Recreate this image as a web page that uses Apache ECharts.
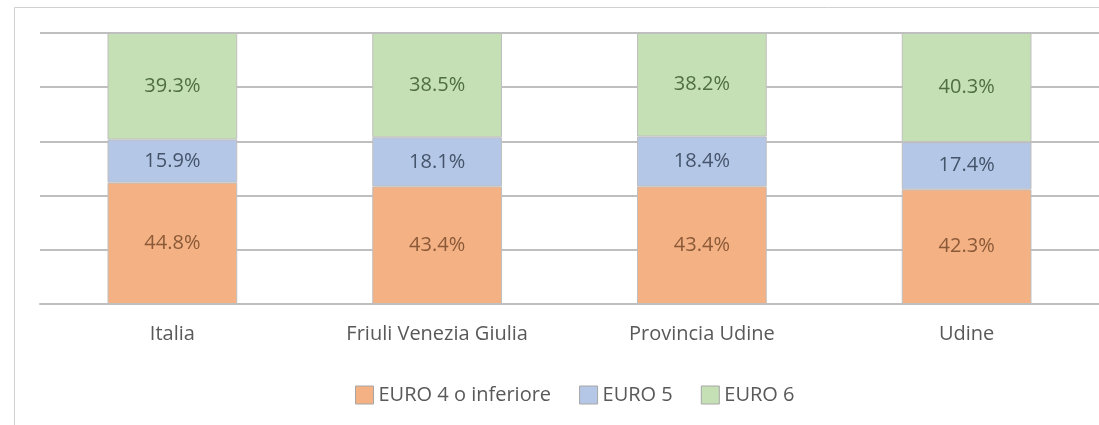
<!DOCTYPE html>
<html>
<head>
<meta charset="utf-8">
<script src="https://cdn.jsdelivr.net/npm/echarts@6/dist/echarts.min.js"></script>
<style>
  html, body { margin: 0; padding: 0; background: #ffffff; }
  #chart { width: 1099px; height: 425px; }
</style>
</head>
<body>
<div id="chart"></div>
<script>
// Share of vehicles by emission class (%)
const categories = ['Italia', 'Friuli Venezia Giulia', 'Provincia Udine', 'Udine'];
const euro4 = [44.8, 43.4, 43.4, 42.3];
const euro5 = [15.9, 18.1, 18.4, 17.4];
const euro6 = [39.3, 38.5, 38.2, 40.3];
const seriesNames = ['EURO 4 o inferiore', 'EURO 5', 'EURO 6'];

const fills = ['#f4b183', '#b4c7e7', '#c5e0b4'];
const labelColors = ['#8a5a38', '#44546a', '#4f6e42'];
const font = '"Open Sans", "Noto Sans", sans-serif';
const fontSize = 20;

const chart = echarts.init(document.getElementById('chart'), null, { renderer: 'canvas' });

function makeSeries(name, data, i) {
  return {
    name: name,
    type: 'bar',
    stack: 'total',
    data: data,
    barWidth: '49%',
    itemStyle: { color: fills[i], borderColor: '#bfbfbf', borderWidth: 1 },
    label: {
      show: true,
      position: 'inside',
      formatter: p => p.value.toFixed(1) + '%',
      color: labelColors[i],
      fontFamily: font,
      fontSize: fontSize
    },
    emphasis: { disabled: true }
  };
}

chart.setOption({
  animation: false,
  backgroundColor: '#ffffff',
  graphic: [{
    type: 'rect',
    shape: { x: 14.5, y: 7.5, width: 1200, height: 500 },
    style: { fill: 'none', stroke: '#d0d0d0', lineWidth: 1 },
    silent: true,
    z: -1
  }],
  grid: { left: 40, right: -1, top: 33, bottom: 121, containLabel: false },
  legend: {
    data: seriesNames,
    left: 350,
    top: 380,
    itemWidth: 18,
    itemHeight: 18,
    itemGap: 28,
    icon: 'rect',
    itemStyle: { borderColor: '#a6a6a6', borderWidth: 1 },
    textStyle: { color: '#595959', fontFamily: font, fontSize: fontSize },
    selectedMode: false
  },
  xAxis: {
    type: 'category',
    data: categories,
    axisLine: { show: true, lineStyle: { color: '#bfbfbf', width: 2 } },
    axisTick: { show: false },
    axisLabel: { color: '#595959', fontFamily: font, fontSize: fontSize, margin: 20 }
  },
  yAxis: {
    type: 'value',
    min: 0,
    max: 100,
    interval: 20,
    axisLabel: { show: false },
    axisLine: { show: false },
    axisTick: { show: false },
    splitLine: { show: true, lineStyle: { color: '#bfbfbf', width: 2 } }
  },
  series: [
    makeSeries(seriesNames[0], euro4, 0),
    makeSeries(seriesNames[1], euro5, 1),
    makeSeries(seriesNames[2], euro6, 2)
  ]
});
</script>
</body>
</html>
